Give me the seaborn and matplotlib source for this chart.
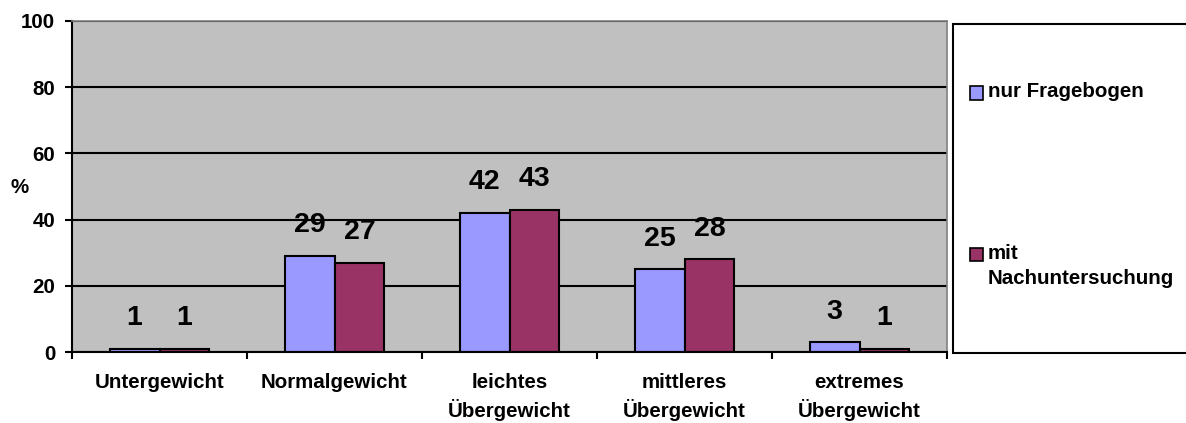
import matplotlib
matplotlib.use("Agg")
import matplotlib.pyplot as plt
import seaborn as sns
import pandas as pd
from matplotlib.patches import Rectangle
from matplotlib.ticker import FixedLocator, NullFormatter

# Data
categories = ["Untergewicht", "Normalgewicht", "leichtes\nÜbergewicht",
              "mittleres\nÜbergewicht", "extremes\nÜbergewicht"]
series_names = ["nur Fragebogen", "mit\nNachuntersuchung"]
nur_fragebogen = [1, 29, 42, 25, 3]
mit_nachuntersuchung = [1, 27, 43, 28, 1]
y_ticks = [0, 20, 40, 60, 80, 100]
y_label = "%"
colors = ["#9999FF", "#993366"]

df = pd.DataFrame({
    "Kategorie": categories * 2,
    "Reihe": [series_names[0]] * len(categories) + [series_names[1]] * len(categories),
    "Wert": nur_fragebogen + mit_nachuntersuchung,
})

sns.set_theme(style="white")
plt.rcParams["font.family"] = ["Liberation Sans", "DejaVu Sans"]
plt.rcParams["font.weight"] = "bold"
for key in ["text.color", "axes.labelcolor", "xtick.color", "ytick.color"]:
    plt.rcParams[key] = "black"

FS = 14.8
W, H = 1186, 423
fig = plt.figure(figsize=(W / 100, H / 100), dpi=100)
ax = fig.add_axes([72 / W, 1 - 352 / H, (947 - 72) / W, (352 - 21) / H])
ax.set_facecolor("#C0C0C0")

sns.barplot(data=df, x="Kategorie", y="Wert", hue="Reihe", order=categories,
            hue_order=series_names, palette=colors, saturation=1,
            width=0.571, gap=0, edgecolor="black", linewidth=1.5,
            legend=False, ax=ax)

# Value labels above bars
for cont in ax.containers:
    for bar, val in zip(cont, cont.datavalues):
        ax.annotate(f"{val:g}", (bar.get_x() + bar.get_width() / 2, val),
                    xytext=(0, 22), textcoords="offset points",
                    ha="center", va="center", fontsize=20.5, fontweight="bold",
                    color="black")

ax.set_ylim(0, 100)
ax.set_xlim(-0.5, len(categories) - 0.5)
ax.set_yticks(y_ticks)
ax.yaxis.grid(True, color="black", linewidth=1.5)
ax.set_axisbelow(True)
ax.set_xlabel("")
ax.set_ylabel("")

ax.tick_params(axis="y", which="major", direction="out", length=5, width=1.5,
               color="black", labelcolor="black", labelsize=FS, pad=7, left=True)
ax.tick_params(axis="x", which="major", length=0, labelsize=FS, labelcolor="black", pad=15)
ax.xaxis.set_minor_locator(FixedLocator([i - 0.5 for i in range(len(categories) + 1)]))
ax.xaxis.set_minor_formatter(NullFormatter())
ax.tick_params(axis="x", which="minor", direction="out", length=5, width=1.5,
               color="black", bottom=True)
for lab in ax.get_xticklabels():
    lab.set_linespacing(1.4)
    lab.set_fontweight("bold")
for lab in ax.get_yticklabels():
    lab.set_fontweight("bold")

for side in ["left", "bottom"]:
    ax.spines[side].set_color("black")
    ax.spines[side].set_linewidth(1.5)
for side in ["top", "right"]:
    ax.spines[side].set_color("#808080")
    ax.spines[side].set_linewidth(1.2)

fig.text(20 / W, 1 - 187 / H, y_label, ha="center", va="center",
         fontsize=FS, fontweight="bold", color="black")

# Legend box
fig.patches.append(Rectangle((953 / W, 1 - 353 / H), (1195 - 953) / W, (353 - 24) / H,
                             transform=fig.transFigure, facecolor="white",
                             edgecolor="black", linewidth=1.5, zorder=0))
entry_y = [93, 255]
sq = 13
for name, col, yc in zip(series_names, colors, entry_y):
    fig.patches.append(Rectangle((970 / W, 1 - (yc + sq / 2) / H), sq / W, sq / H,
                                 transform=fig.transFigure, facecolor=col,
                                 edgecolor="black", linewidth=1.2, zorder=2))
    fig.text(988 / W, 1 - (yc - 11) / H, name, ha="left", va="top",
             fontsize=FS, fontweight="bold", linespacing=1.4, color="black")

fig.savefig("out.png", dpi=100)
